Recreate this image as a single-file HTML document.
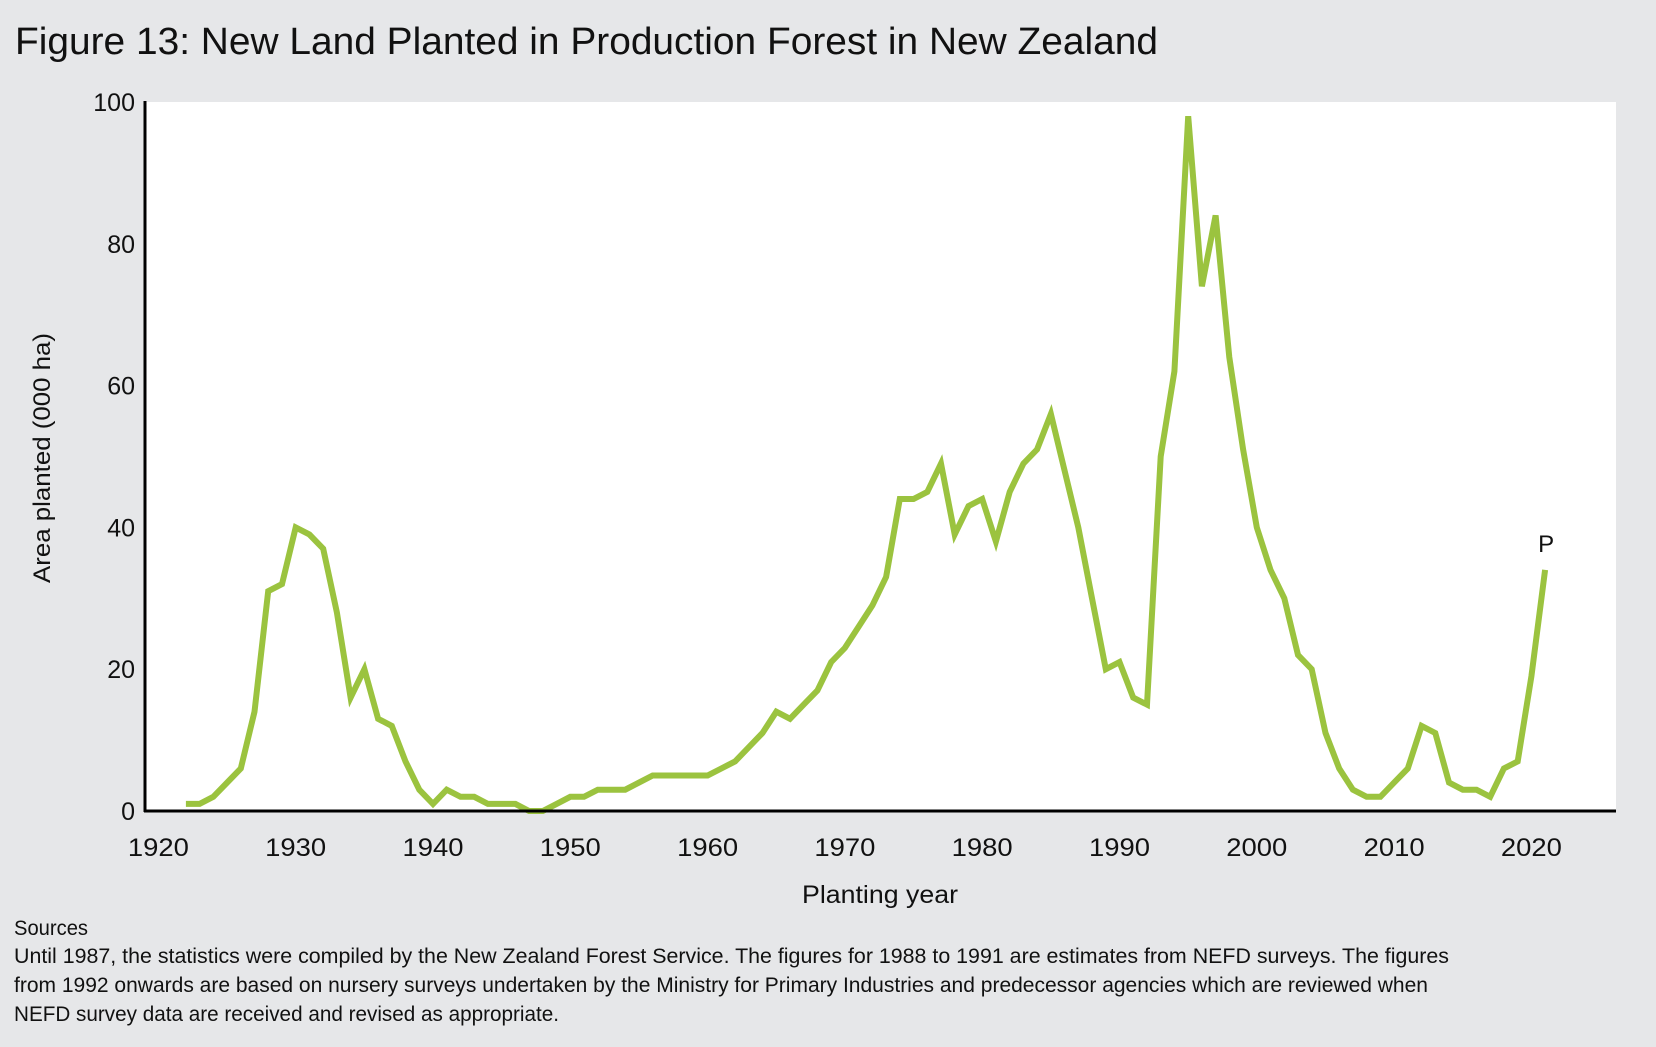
<!DOCTYPE html>
<html><head><meta charset="utf-8"><style>
html,body{margin:0;padding:0;background:#e6e7e9;}
svg{display:block;font-family:"Liberation Sans",sans-serif;}
</style></head><body>
<svg id="chart" width="1656" height="1047" viewBox="0 0 1656 1047">
<rect x="0" y="0" width="1656" height="1047" fill="#e6e7e9"/>
<text x="15" y="54" font-size="38" fill="#111" textLength="1143" lengthAdjust="spacingAndGlyphs">Figure 13: New Land Planted in Production Forest in New Zealand</text>
<rect x="145" y="102" width="1471" height="709" fill="#fff"/>
<g id="yticks"></g>
<g id="xticks"></g>
<path id="line" fill="none" stroke="#9bc33f" stroke-width="6" stroke-linejoin="miter"/>
<line x1="145" y1="101" x2="145" y2="812" stroke="#000" stroke-width="3"/>
<line x1="144" y1="811" x2="1616" y2="811" stroke="#000" stroke-width="3"/>
<text id="plabel" font-size="24" fill="#111" text-anchor="middle">P</text>
<text transform="translate(50,458) rotate(-90)" font-size="24" fill="#111" text-anchor="middle" textLength="250" lengthAdjust="spacingAndGlyphs">Area planted (000 ha)</text>
<text x="880" y="903" font-size="25" fill="#111" text-anchor="middle" textLength="156" lengthAdjust="spacingAndGlyphs">Planting year</text>
<g font-size="21" fill="#111">
<text x="14" y="935" textLength="74" lengthAdjust="spacingAndGlyphs">Sources</text>
<text x="14" y="963" textLength="1435" lengthAdjust="spacingAndGlyphs">Until 1987, the statistics were compiled by the New Zealand Forest Service. The figures for 1988 to 1991 are estimates from NEFD surveys. The figures</text>
<text x="14" y="992" textLength="1414" lengthAdjust="spacingAndGlyphs">from 1992 onwards are based on nursery surveys undertaken by the Ministry for Primary Industries and predecessor agencies which are reviewed when</text>
<text x="14" y="1021" textLength="545" lengthAdjust="spacingAndGlyphs">NEFD survey data are received and revised as appropriate.</text>
</g>
</svg>
<script>
const years = [];
for (let y = 1922; y <= 2021; y++) years.push(y);
const values = [1,1,2,4,6,14,31,32,40,39,37,28,16,20,13,12,7,3,1,3,2,2,1,1,1,0,0,1,2,2,3,3,3,4,5,5,5,5,5,6,7,9,11,14,13,15,17,21,23,26,29,33,44,44,45,49,39,43,44,38,45,49,51,56,48,40,30,20,21,16,15,50,62,98,74,84,64,51,40,34,30,22,20,11,6,3,2,2,4,6,12,11,4,3,3,2,6,7,19,34];
const xTicks = [1920,1930,1940,1950,1960,1970,1980,1990,2000,2010,2020];
const yTicks = [0,20,40,60,80,100];
const NS = "http://www.w3.org/2000/svg";
function xs(v){ return 158.4 + (v - 1920) * 13.73; }
function ys(v){ return 811 - v * 7.09; }
const yg = document.getElementById('yticks');
yTicks.forEach(t => {
  const el = document.createElementNS(NS, 'text');
  
  
  el.setAttribute('x', 135); el.setAttribute('y', ys(t) + 9);
  el.setAttribute('font-size', '25'); el.setAttribute('fill', '#111');
  el.setAttribute('text-anchor', 'end');
  el.textContent = t;
  yg.appendChild(el);
});
const xg = document.getElementById('xticks');
xTicks.forEach(t => {
  const el = document.createElementNS(NS, 'text');
  
  
  el.setAttribute('x', xs(t)); el.setAttribute('y', 856);
  el.setAttribute('font-size', '25'); el.setAttribute('fill', '#111');
  el.setAttribute('text-anchor', 'middle');
  el.setAttribute('textLength', '61'); el.setAttribute('lengthAdjust', 'spacingAndGlyphs');
  el.textContent = t;
  xg.appendChild(el);
});
let d = '';
years.forEach((y, i) => { d += (i ? 'L' : 'M') + xs(y).toFixed(1) + ',' + ys(values[i]).toFixed(1); });
document.getElementById('line').setAttribute('d', d);
const p = document.getElementById('plabel');
p.setAttribute('x', xs(years[years.length-1]) + 1);
p.setAttribute('y', ys(values[values.length-1]) - 18);
</script>
</body></html>
